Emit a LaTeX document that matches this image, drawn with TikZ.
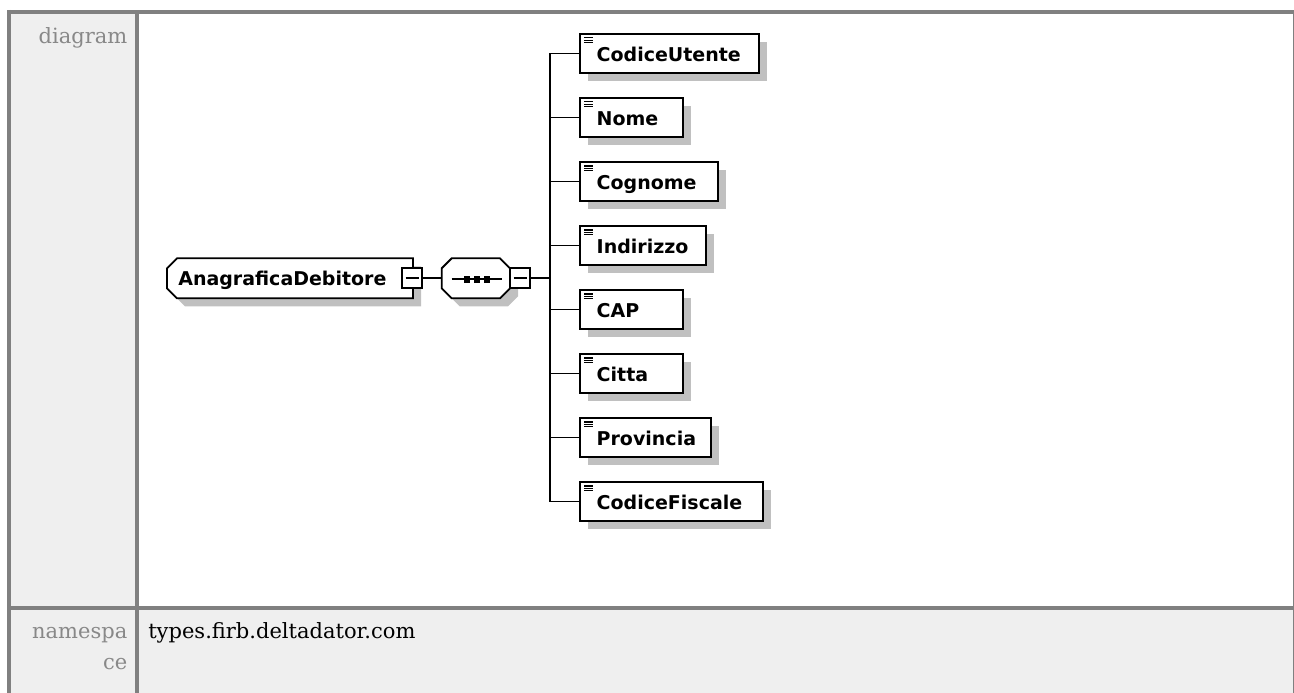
\documentclass[tikz,border=0pt]{standalone}
\usepackage{fontspec}
\setmainfont{DejaVu Serif}
\newfontfamily\diagfont{DejaVu Sans}
\usetikzlibrary{calc,shadows}

\definecolor{rule}{RGB}{128,128,128}
\definecolor{cellbg}{RGB}{239,239,239}
\definecolor{caption}{RGB}{136,136,136}
\definecolor{shadowgray}{RGB}{192,192,192}

\begin{document}
\begin{tikzpicture}[x=1pt,y=-1pt,
  every node/.style={inner sep=0pt, outer sep=0pt},
  rowlabel/.style={font=\fontsize{21}{30}\selectfont, text=caption, anchor=base east},
  rowvalue/.style={font=\fontsize{21}{30}\selectfont, anchor=base west},
  frame/.style={draw=rule, line width=4pt},
  link/.style={line width=1.8pt},
  outline/.style={draw=black, fill=white, line width=1.8pt, line join=miter},
  elem/.style={outline, anchor=west, minimum height=38.5pt,
    drop shadow={shadow xshift=8pt, shadow yshift=-8pt, opacity=1, fill=shadowgray}},
  elabel/.style={font=\diagfont\bfseries\fontsize{19}{22}\selectfont, anchor=base west},
  pm/.style={outline, minimum width=20pt, minimum height=20pt},
  listicon/.style={line width=1.1pt},
  holder/.style={anchor=west, minimum height=40pt},
  shadowfill/.style={fill=shadowgray},
]
\useasboundingbox (0,0) rectangle (1294,693);

% table cells
\fill[cellbg] (8,12) rectangle (137,693);
\fill[cellbg] (137,608) rectangle (1294,693);

% table rules
\draw[frame] (7,12) -- (1294,12);
\draw[rule, line width=3.5pt] (9,10) -- (9,693);
\draw[frame] (137,12) -- (137,693);
\draw[frame] (9,608) -- (1294,608);
\draw[rule, line width=3pt] (1294,10) -- (1294,693);

% row captions and value
\node[rowlabel] (lbl-diagram) at (127.3,43.3) {diagram};
\node[rowlabel] (lbl-ns1) at (127.3,638.5) {namespa};
\node[rowlabel] (lbl-ns2) at (127.3,669) {ce};
\node[rowvalue] (ns-value) at (148.3,638.5) {types.firb.deltadator.com};

% root element (left corners cut)
\node[holder, minimum width=246pt] (root) at (167,278.3) {};
\path[shadowfill] ($(root.north west)+(8,18)$) -- ($(root.north west)+(18,8)$)
  -- ($(root.north east)+(8,8)$) -- ($(root.south east)+(8,8)$)
  -- ($(root.south west)+(18,8)$) -- ($(root.south west)+(8,-2)$) -- cycle;
\draw[outline] ($(root.north west)+(0,10)$) -- ($(root.north west)+(10,0)$)
  -- (root.north east) -- (root.south east)
  -- ($(root.south west)+(10,0)$) -- ($(root.south west)+(0,-10)$) -- cycle;
\node[elabel] (root-label) at ($(root.west)+(11.3,7)$) {AnagraficaDebitore};
\node[pm] (root-pm) at (412,278.3) {};
\draw[link] ($(root-pm.center)+(-6.5,0)$) -- ($(root-pm.center)+(6.5,0)$);

% sequence compositor (all corners cut)
\node[holder, minimum width=68.3pt] (seq) at (441.7,278.3) {};
\path[shadowfill] ($(seq.north west)+(8,18)$) -- ($(seq.north west)+(18,8)$)
  -- ($(seq.north east)+(-2,8)$) -- ($(seq.north east)+(8,18)$)
  -- ($(seq.south east)+(8,-2)$) -- ($(seq.south east)+(-2,8)$)
  -- ($(seq.south west)+(18,8)$) -- ($(seq.south west)+(8,-2)$) -- cycle;
\draw[outline] ($(seq.north west)+(0,10)$) -- ($(seq.north west)+(10,0)$)
  -- ($(seq.north east)+(-10,0)$) -- ($(seq.north east)+(0,10)$)
  -- ($(seq.south east)+(0,-10)$) -- ($(seq.south east)+(-10,0)$)
  -- ($(seq.south west)+(10,0)$) -- ($(seq.south west)+(0,-10)$) -- cycle;
\draw[link] ($(seq.west)+(10,1)$) -- ($(seq.east)+(-8,1)$);
\foreach \dx in {22.3,32.3,42.3}
  \fill ($(seq.west)+(\dx,-2.3)$) rectangle ++(5.5,7);
\node[pm] (seq-pm) at (520,278.3) {};
\draw[link] ($(seq-pm.center)+(-6.5,0)$) -- ($(seq-pm.center)+(6.5,0)$);

\draw[link] (root-pm.east) -- (seq.west);

% branch trunk
\coordinate (trunk) at (550,278.3);
\draw[link] (seq-pm.east) -- (trunk);

% child elements
\foreach \name/\boxw [count=\i from 0] in {CodiceUtente/179.3, Nome/103.3,
    Cognome/138.3, Indirizzo/125.7, CAP/103.3, Citta/103.3, Provincia/131,
    CodiceFiscale/183.3} {
  \node[elem, minimum width=\boxw pt] (\name) at (580,53.5+64*\i) {};
  \node[elabel] (\name-label) at ($(\name.west)+(16.7,8.3)$) {\name};
  \foreach \k in {3.7,6.1,8.5}
    \draw[listicon] ($(\name.north west)+(4.3,\k)$) -- ++(9,0);
  \draw[link] (trunk |- \name.west) -- (\name.west);
}
\draw[link] (trunk |- CodiceUtente.west) -- (trunk |- CodiceFiscale.west);
\end{tikzpicture}
\end{document}
